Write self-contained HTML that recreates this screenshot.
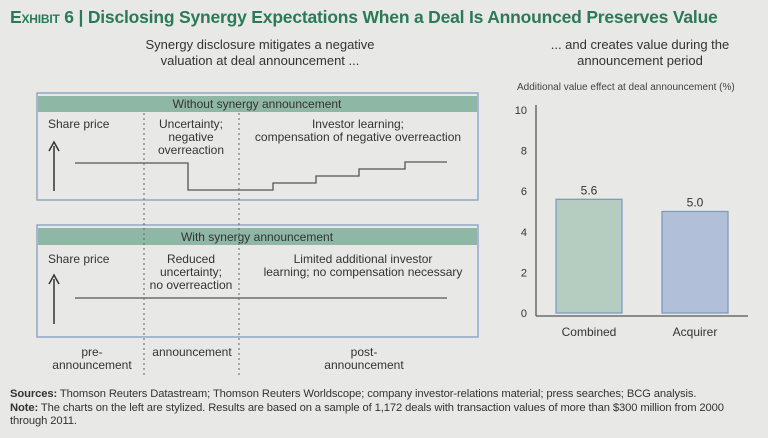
<!DOCTYPE html>
<html><head><meta charset="utf-8"><style>
body{margin:0;width:768px;height:438px;background:#e8e8e6;font-family:"Liberation Sans",sans-serif;overflow:hidden;position:relative;color:#333}
.t{position:absolute;white-space:nowrap}
</style></head><body>
<div class="t" style="left:10px;top:7px;font-size:17.5px;font-weight:bold;color:#2b7a57;letter-spacing:-0.2px"><span style="font-variant:small-caps">Exhibit 6</span> | Disclosing Synergy Expectations When a Deal Is Announced Preserves Value</div>
<div class="t" style="left:130px;top:37px;width:260px;text-align:center;font-size:13px;line-height:16px">Synergy disclosure mitigates a negative<br>valuation at deal announcement ...</div>
<div class="t" style="left:540px;top:37px;width:200px;text-align:center;font-size:13px;line-height:16px">... and creates value during the<br>announcement period</div>
<div class="t" style="left:517px;top:82px;font-size:10px;color:#444">Additional value effect at deal announcement (%)</div>

<svg width="768" height="438" style="position:absolute;left:0;top:0" font-family="Liberation Sans, sans-serif" fill="#333">
<g>
<rect x="37" y="93" width="441" height="107" fill="none" stroke="#8ea7c6" stroke-width="1.5"/>
<rect x="38" y="96" width="439" height="16" fill="#8fb7a5"/>
<text x="257" y="108" text-anchor="middle" font-size="12">Without synergy announcement</text>
<text x="48" y="128" font-size="12">Share price</text>
<text x="191" y="128" text-anchor="middle" font-size="12">Uncertainty;</text>
<text x="191" y="141" text-anchor="middle" font-size="12">negative</text>
<text x="191" y="154" text-anchor="middle" font-size="12">overreaction</text>
<text x="358" y="128" text-anchor="middle" font-size="12">Investor learning;</text>
<text x="358" y="141" text-anchor="middle" font-size="12">compensation of negative overreaction</text>
<line x1="54" y1="191" x2="54" y2="146" stroke="#333" stroke-width="1.5"/>
<path d="M49,151 L54,142 L59,151" fill="none" stroke="#333" stroke-width="1.5"/>
<polyline points="75,163 188,163 188,190 273,190 273,183 316,183 316,176 359,176 359,169 405,169 405,162 447,162" fill="none" stroke="#555" stroke-width="1.3"/>
</g>
<g>
<rect x="37" y="225" width="441" height="112" fill="none" stroke="#8ea7c6" stroke-width="1.5"/>
<rect x="38" y="228" width="439" height="17" fill="#8fb7a5"/>
<text x="257" y="241" text-anchor="middle" font-size="12">With synergy announcement</text>
<text x="48" y="263" font-size="12">Share price</text>
<text x="191" y="263" text-anchor="middle" font-size="12">Reduced</text>
<text x="191" y="276" text-anchor="middle" font-size="12">uncertainty;</text>
<text x="191" y="289" text-anchor="middle" font-size="12">no overreaction</text>
<text x="363" y="263" text-anchor="middle" font-size="12">Limited additional investor</text>
<text x="363" y="276" text-anchor="middle" font-size="12">learning; no compensation necessary</text>
<line x1="54" y1="324" x2="54" y2="279" stroke="#333" stroke-width="1.5"/>
<path d="M49,284 L54,275 L59,284" fill="none" stroke="#333" stroke-width="1.5"/>
<line x1="75" y1="298" x2="447" y2="298" stroke="#555" stroke-width="1.3"/>
</g>
<line x1="144" y1="113" x2="144" y2="375" stroke="#666" stroke-dasharray="2,3"/>
<line x1="239" y1="113" x2="239" y2="375" stroke="#666" stroke-dasharray="2,3"/>
<g font-size="12" text-anchor="middle">
<text x="92" y="356">pre-</text><text x="92" y="369">announcement</text>
<text x="192" y="356">announcement</text>
<text x="364" y="356">post-</text><text x="364" y="369">announcement</text>
</g>
<g id="bars"></g>
</svg>

<div class="t" style="left:10px;top:388px;font-size:11.2px;line-height:13.5px;color:#333;letter-spacing:-0.1px"><b>Sources:</b> Thomson Reuters Datastream; Thomson Reuters Worldscope; company investor-relations material; press searches; BCG analysis.<br><b>Note:</b> The charts on the left are stylized. Results are based on a sample of 1,172 deals with transaction values of more than $300 million from 2000<br>through 2011.</div>

<script>
const categories=["Combined","Acquirer"];
const values=[5.6,5.0];
const valueLabels=["5.6","5.0"];
const ticks=[0,2,4,6,8,10];
const fills=["#b5cdc1","#b1bfd8"];
const NS="http://www.w3.org/2000/svg";
const g=document.getElementById('bars');
const y=v=>313-v*20.3;
const x=i=>556+i*106;
const bw=66;
function mk(t,a,txt){const e=document.createElementNS(NS,t);for(const k in a)e.setAttribute(k,a[k]);if(txt!=null)e.textContent=txt;g.appendChild(e);return e;}
ticks.forEach(t=>{
 const e=mk('text',{x:527,y:y(t)+4,'text-anchor':'end','font-size':11},String(t));
 
 
});
values.forEach((v,i)=>{
 const r=mk('rect',{x:x(i),y:y(v),width:bw,height:313-y(v),fill:fills[i],stroke:'#7f9bbd','stroke-width':1.3});
 
 
 const l=mk('text',{x:x(i)+bw/2,y:y(v)-5,'text-anchor':'middle','font-size':12},valueLabels[i]);
 
 
 const c=mk('text',{x:x(i)+bw/2,y:336,'text-anchor':'middle','font-size':12},categories[i]);
 
 
});
const ya=mk('line',{x1:536,y1:105,x2:536,y2:316,stroke:'#555','stroke-width':1.3});


const xa=mk('line',{x1:536,y1:316,x2:748,y2:316,stroke:'#555','stroke-width':1.3});


</script>
</body></html>
